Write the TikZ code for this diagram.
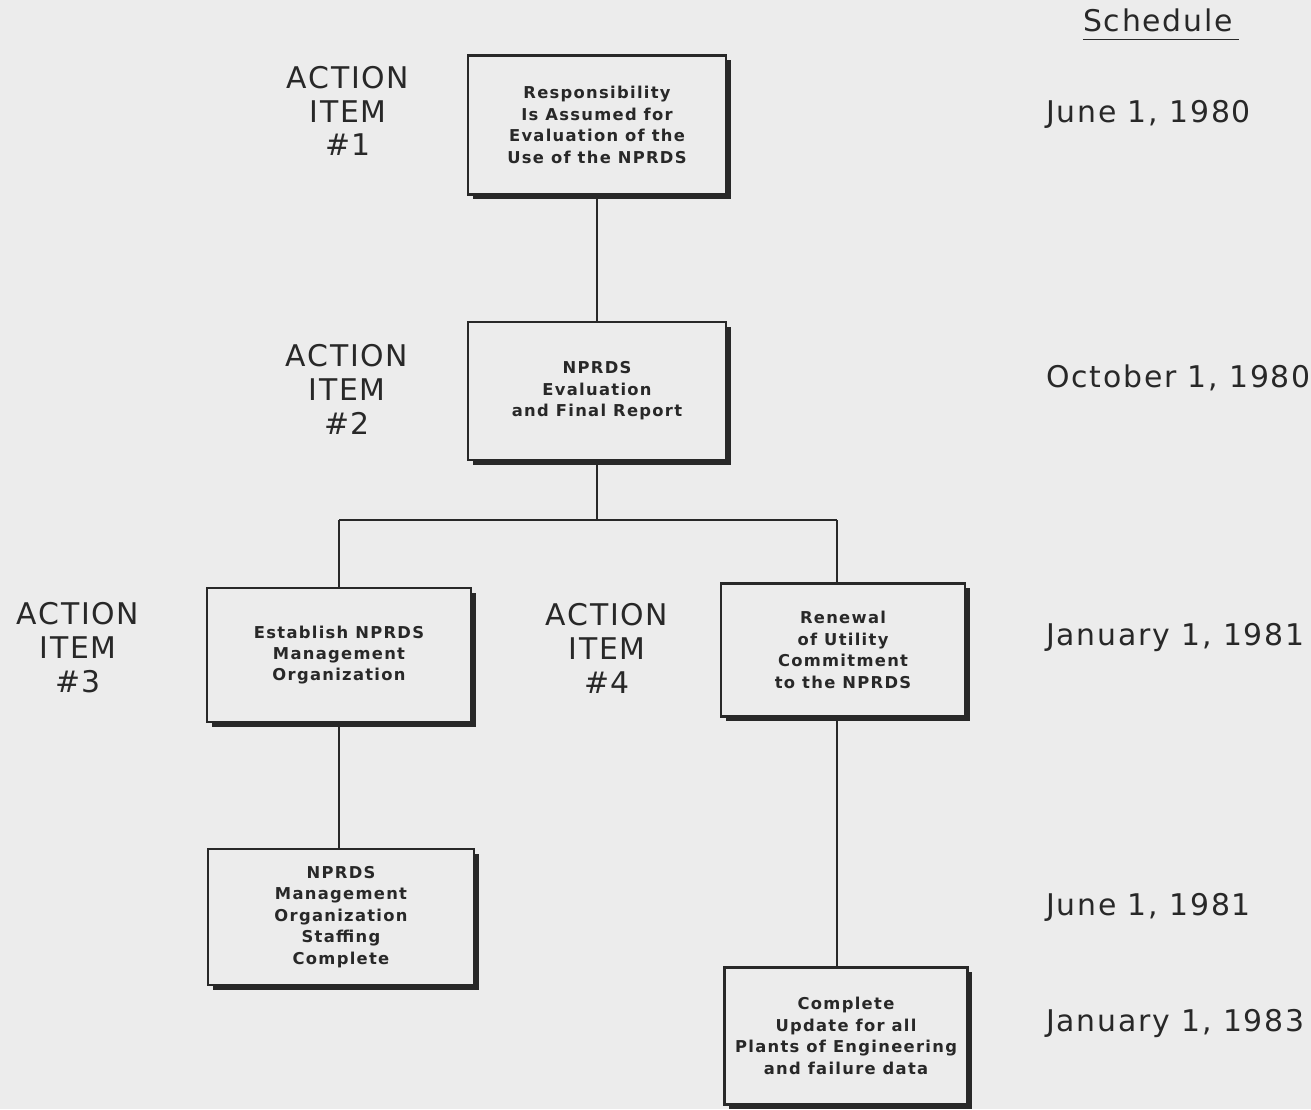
\documentclass[tikz,border=0pt]{standalone}
\usepackage{fontspec}
\setmainfont{DejaVu Sans}[LetterSpace=6]
\newfontfamily\boxfont{DejaVu Sans}[LetterSpace=8]
\usetikzlibrary{shadows}
\definecolor{paper}{RGB}{236,236,236}
\definecolor{ink}{RGB}{40,40,40}
\tikzset{
  task/.style={draw=ink, line width=1.4pt, fill=paper, align=center, text=ink,
    font=\boxfont\bfseries\fontsize{9.3}{12.2}\selectfont,
    drop shadow={shadow xshift=2.6pt, shadow yshift=-2.6pt, opacity=1, fill=ink}},
  item/.style={align=center, text=ink, font=\fontsize{17}{19.3}\selectfont},
  date/.style={anchor=west, text=ink, font=\fontsize{17}{19.3}\selectfont},
  link/.style={draw=ink, line width=0.8pt}
}
\begin{document}
\begin{tikzpicture}[x=0.02cm, y=-0.02cm]
	  \useasboundingbox (0,0) rectangle (1311,1109);
	  \fill [paper] (0,0) rectangle (1311,1109);

	  % boxes
	  \node [task, minimum width=5.16cm, minimum height=2.78cm] (resp) at (597,125) {Responsibility\\Is Assumed for\\Evaluation of the\\Use of the NPRDS};
	  \node [task, minimum width=5.16cm, minimum height=2.76cm] (eval) at (597,391) {NPRDS\\Evaluation\\and Final Report};
	  \node [task, minimum width=5.28cm, minimum height=2.68cm] (org) at (339,655) {Establish NPRDS\\Management\\Organization};
	  \node [task, minimum width=4.88cm, minimum height=2.66cm] (renew) at (843,650) {Renewal\\of Utility\\Commitment\\to the NPRDS};
	  \node [task, minimum width=5.32cm, minimum height=2.72cm] (staff) at (341,917) {NPRDS\\Management\\Organization\\Staffing\\Complete};
	  \node [task, minimum width=4.86cm, minimum height=2.74cm] (update) at (846,1036) {Complete\\Update for all\\Plants of Engineering\\and failure data};

	  % connectors
	  \coordinate (jl) at (339,520);
	  \coordinate (jr) at (837,520);
	  \draw [link] (resp.south) -- (eval.north);
	  \draw [link] (eval.south) -- (eval.south |- jl);
	  \draw [link] (jl) -- (jr);
	  \draw [link] (jl) -- (org.north);
	  \draw [link] (jr) -- (jr |- renew.north);
	  \draw [link] (org.south) -- (staff.north -| org.south);
	  \draw [link] (renew.south -| jr) -- (update.north -| jr);

	  % action items
	  \node [item] (item1) at (348,111) {ACTION\\ITEM\\\#1};
	  \node [item] (item2) at (347,389) {ACTION\\ITEM\\\#2};
	  \node [item] (item3) at (78,648) {ACTION\\ITEM\\\#3};
	  \node [item] (item4) at (607,648) {ACTION\\ITEM\\\#4};

	  % schedule
	  \node [item, inner xsep=0pt] (sched) at (1158,20) {Schedule};
	  \draw [link] ([xshift=0pt, yshift=-1pt]sched.south west) -- ([xshift=3pt, yshift=-1pt]sched.south east);
	  \node [date] (d1) at (1040,114) {June 1, 1980};
	  \node [date] (d2) at (1040,378) {October 1, 1980};
	  \node [date] (d3) at (1040,638) {January 1, 1981};
	  \node [date] (d4) at (1040,907) {June 1, 1981};
	  \node [date] (d5) at (1040,1024) {January 1, 1983};
	\end{tikzpicture}
\end{document}
